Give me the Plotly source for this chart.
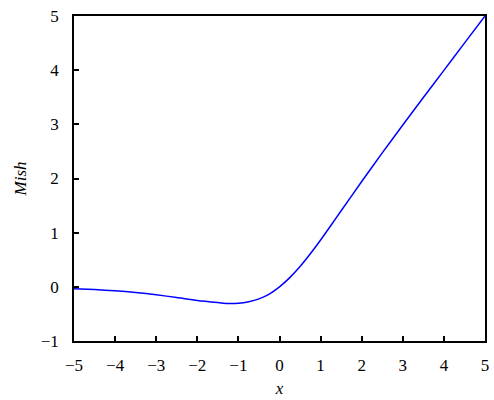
import plotly.graph_objects as go

x_vals = [-5, -4.5, -4, -3.5, -3, -2.5, -2, -1.5, -1.2, -1, -0.75, -0.5, -0.25, 0,
          0.25, 0.5, 0.75, 1, 1.25, 1.5, 2, 2.5, 3, 3.5, 4, 4.5, 5]
mish_vals = [-0.034, -0.050, -0.073, -0.104, -0.146, -0.198, -0.252, -0.290, -0.309, -0.303,
             -0.275, -0.222, -0.133, 0.0,
             0.170, 0.375, 0.610, 0.865, 1.133, 1.404, 1.944, 2.473, 2.987, 3.494, 3.997, 4.499, 5.0]

x_ticks = [-5, -4, -3, -2, -1, 0, 1, 2, 3, 4, 5]
y_ticks = [-1, 0, 1, 2, 3, 4, 5]

def lab(v):
    return str(v).replace("-", "\u2212")

fig = go.Figure()
fig.add_trace(go.Scatter(x=x_vals, y=mish_vals, mode="lines",
                         line=dict(color="#0000ff", width=1.5, shape="spline", smoothing=0.6),
                         showlegend=False, hoverinfo="skip"))

font = dict(family="Liberation Serif", size=17, color="black")
fig.update_layout(
    width=494, height=400,
    margin=dict(l=74, r=5, t=16, b=59),
    paper_bgcolor="white", plot_bgcolor="white",
    font=font,
    xaxis=dict(range=[-5, 5], tickvals=x_ticks, ticktext=[lab(v) for v in x_ticks],
               ticks="inside", ticklen=5, tickwidth=1.5, tickcolor="black",
               showline=True, linewidth=1.5, linecolor="black", mirror=True,
               showgrid=False, zeroline=False, ticklabeloverflow="allow",
               ticklabelstandoff=8,
               title=dict(text="<i>x</i>", font=font, standoff=8)),
    yaxis=dict(range=[-1, 5], tickvals=y_ticks, ticktext=[lab(v) for v in y_ticks],
               ticks="inside", ticklen=5, tickwidth=1.5, tickcolor="black",
               showline=True, linewidth=1.5, linecolor="black", mirror=True,
               showgrid=False, zeroline=False, ticklabeloverflow="allow",
               ticklabelstandoff=10,
               title=dict(text="<i>Mish</i>", font=font, standoff=10)),
)

fig.write_html("out.html", config={"displayModeBar": False},
               post_script="document.body.style.margin='0';document.body.style.overflow='hidden';")
